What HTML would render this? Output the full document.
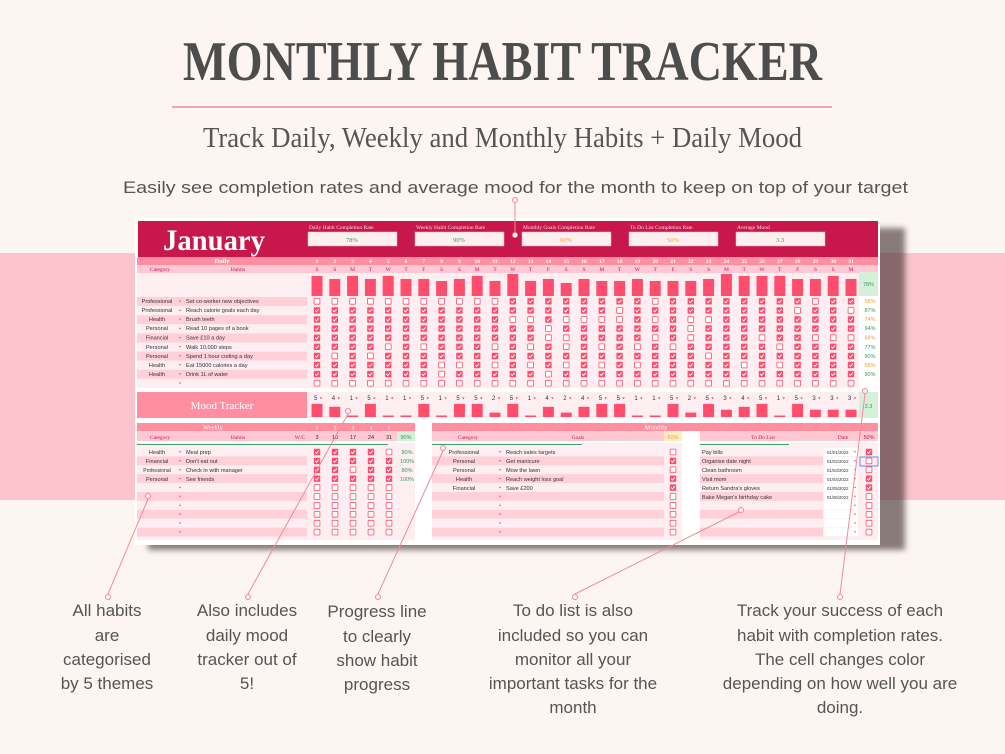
<!DOCTYPE html>
<html><head><meta charset="utf-8"><style>
html,body{margin:0;padding:0;width:1005px;height:754px;overflow:hidden;background:#fdf5f1}
svg{display:block}
.s{font-family:"Liberation Sans",sans-serif}
.f{font-family:"Liberation Serif",serif}
</style></head><body>
<svg id="g" width="1005" height="754" viewBox="0 0 1005 754" xmlns="http://www.w3.org/2000/svg">
<defs><filter id="bl" x="-5%" y="-5%" width="110%" height="110%"><feGaussianBlur stdDeviation="3"/></filter></defs>
<rect x="0" y="0" width="1005" height="754" fill="#fdf5f1"/>
<rect x="0" y="253" width="1005" height="247" fill="#fbc4cc"/>

<text class="f" x="183" y="80" font-size="56" font-weight="bold" fill="#4d4d4d" textLength="639" lengthAdjust="spacingAndGlyphs">MONTHLY HABIT TRACKER</text>
<rect x="172" y="106" width="660" height="2" fill="#f4a3b0"/>
<text class="f" x="203" y="147" font-size="28" fill="#555" textLength="599" lengthAdjust="spacingAndGlyphs">Track Daily, Weekly and Monthly Habits + Daily Mood</text>
<text class="s" x="123" y="193" font-size="17" fill="#555" textLength="785" lengthAdjust="spacingAndGlyphs">Easily see completion rates and average mood for the month to keep on top of your target</text>

<!-- card shadow + card -->
<rect x="148" y="228" width="757" height="322" fill="#3a2a2c" opacity="0.6" filter="url(#bl)"/>
<rect x="135" y="218" width="745" height="327" fill="#ffffff"/>
<rect x="138" y="221" width="740" height="36" fill="#c8174a"/>
<text class="f" x="163" y="250" font-size="30" font-weight="bold" fill="#fff" textLength="102" lengthAdjust="spacingAndGlyphs">January</text>

<g class="f" font-size="5.5" fill="#f6dbe2">
<text x="309" y="229">Daily Habit Completion Rate</text>
<text x="416" y="229">Weekly Habit Completion Rate</text>
<text x="523" y="229">Monthly Goals Completion Rate</text>
<text x="630" y="229">To Do List Completion Rate</text>
<text x="737" y="229">Average Mood</text>
</g>
<g fill="#fdeef0" stroke="#f2b8c6" stroke-width="0.5">
<rect x="308" y="232" width="89" height="14"/><rect x="415" y="232" width="89" height="14"/><rect x="522" y="232" width="89" height="14"/><rect x="629" y="232" width="89" height="14"/><rect x="736" y="232" width="89" height="14"/>
</g>
<g class="f" font-size="6.5" text-anchor="middle">
<text x="352" y="242" fill="#3a9a5a">78%</text>
<text x="459" y="242" fill="#3a9a5a">90%</text>
<text x="566" y="242" fill="#f0a040">60%</text>
<text x="673" y="242" fill="#f0a040">50%</text>
<text x="780" y="242" fill="#3a9a5a">3.3</text>
</g>

<!-- daily header -->
<rect x="137" y="257" width="741" height="8" fill="#ff8fa0"/>
<rect x="137" y="265" width="741" height="8" fill="#ffc8d2"/>
<rect x="137" y="273" width="722" height="115" fill="#fdeef1"/>
<rect x="859" y="272" width="19" height="24" fill="#d5f0d8"/>
<text class="f" x="222" y="263" font-size="6.5" fill="#fff" text-anchor="middle" font-weight="bold">Daily</text>
<text class="f" x="160" y="271" font-size="5.5" fill="#c8174a" text-anchor="middle">Category</text>
<text class="f" x="238" y="271" font-size="5.5" fill="#c8174a" text-anchor="middle">Habits</text>
<g class="f" font-size="5.5" fill="#fff" text-anchor="middle" font-weight="bold">
<text x="317" y="263">1</text><text x="334.8" y="263">2</text><text x="352.6" y="263">3</text><text x="370.4" y="263">4</text><text x="388.2" y="263">5</text><text x="406" y="263">6</text><text x="423.8" y="263">7</text><text x="441.6" y="263">8</text><text x="459.4" y="263">9</text><text x="477.2" y="263">10</text><text x="495" y="263">11</text><text x="512.8" y="263">12</text><text x="530.6" y="263">13</text><text x="548.4" y="263">14</text><text x="566.2" y="263">15</text><text x="584" y="263">16</text><text x="601.8" y="263">17</text><text x="619.6" y="263">18</text><text x="637.4" y="263">19</text><text x="655.2" y="263">20</text><text x="673" y="263">21</text><text x="690.8" y="263">22</text><text x="708.6" y="263">23</text><text x="726.4" y="263">24</text><text x="744.2" y="263">25</text><text x="762" y="263">26</text><text x="779.8" y="263">27</text><text x="797.6" y="263">28</text><text x="815.4" y="263">29</text><text x="833.2" y="263">30</text><text x="851" y="263">31</text>
</g>
<text class="f" font-size="5.5" fill="#c8174a" text-anchor="middle" y="271" x="317 334.8 352.6 370.4 388.2 406 423.8 441.6 459.4 477.2 495 512.8 530.6 548.4 566.2 584 601.8 619.6 637.4 655.2 673 690.8 708.6 726.4 744.2 762 779.8 797.6 815.4 833.2 851">SSMTWTFSSMTWTFSSMTWTFSSMTWTFSSM</text>
<text class="s" x="868.5" y="286" font-size="5.5" fill="#3a9a5a" text-anchor="middle">78%</text>

<g id="dailyBands"></g>
<g class="s" font-size="5.6" fill="#333">
<text x="157" y="303" text-anchor="middle">Professional</text><text x="186" y="303">Set co-worker new objectives</text>
<text x="157" y="312" text-anchor="middle">Professional</text><text x="186" y="312">Reach calorie goals each day</text>
<text x="157" y="321" text-anchor="middle">Health</text><text x="186" y="321">Brush teeth</text>
<text x="157" y="330" text-anchor="middle">Personal</text><text x="186" y="330">Read 10 pages of a book</text>
<text x="157" y="339.5" text-anchor="middle">Financial</text><text x="186" y="339.5">Save £10 a day</text>
<text x="157" y="349" text-anchor="middle">Personal</text><text x="186" y="349">Walk 10,000 steps</text>
<text x="157" y="358" text-anchor="middle">Personal</text><text x="186" y="358">Spend 1 hour coding a day</text>
<text x="157" y="367" text-anchor="middle">Health</text><text x="186" y="367">Eat 15000 calories a day</text>
<text x="157" y="376" text-anchor="middle">Health</text><text x="186" y="376">Drink 1L of water</text>
</g>
<g class="s" font-size="5.5" text-anchor="middle">
<text x="870" y="303" fill="#f0a040">58%</text><text x="870" y="312" fill="#3a9a5a">87%</text><text x="870" y="321" fill="#f0a040">74%</text><text x="870" y="330" fill="#3a9a5a">94%</text><text x="870" y="339.5" fill="#f0a040">68%</text><text x="870" y="349" fill="#3a9a5a">77%</text><text x="870" y="358" fill="#3a9a5a">90%</text><text x="870" y="367" fill="#f0a040">68%</text><text x="870" y="376" fill="#3a9a5a">90%</text>
</g>

<!-- mood -->
<rect x="137" y="392" width="170" height="26" fill="#ff8fa0"/>
<rect x="307" y="392" width="552" height="26" fill="#fdeef1"/>
<rect x="859" y="392" width="19" height="26" fill="#d5f0d8"/>
<text class="f" x="222" y="409" font-size="11" fill="#fff" text-anchor="middle">Mood Tracker</text>
<text class="s" x="868.5" y="408" font-size="5.5" fill="#3a9a5a" text-anchor="middle">3.3</text>
<text class="s" font-size="6" fill="#333" y="400" x="314 331.8 349.6 367.4 385.2 403 420.8 438.6 456.4 474.2 492 509.8 527.6 545.4 563.2 581 598.8 616.6 634.4 652.2 670 687.8 705.6 723.4 741.2 759 776.8 794.6 812.4 830.2 848">5415115155251424551152534515333</text>
<text class="s" font-size="4" fill="#ff4d6d" y="399.5" x="319 336.8 354.6 372.4 390.2 408 425.8 443.6 461.4 479.2 497 514.8 532.6 550.4 568.2 586 603.8 621.6 639.4 657.2 675 692.8 710.6 728.4 746.2 764 781.8 799.6 817.4 835.2 853">▼▼▼▼▼▼▼▼▼▼▼▼▼▼▼▼▼▼▼▼▼▼▼▼▼▼▼▼▼▼▼</text>

<!-- weekly -->
<rect x="137" y="423" width="278" height="8" fill="#ff8fa0"/>
<rect x="137" y="431" width="278" height="10" fill="#ffc8d2"/>
<rect x="397" y="432" width="18" height="9" fill="#d5f0d8"/>
<rect x="137" y="443" width="278" height="97" fill="#fdeef1"/>
<rect x="137" y="444" width="251" height="1" fill="#3fa06a"/>
<text class="f" x="213" y="429.5" font-size="6.5" fill="#fff" text-anchor="middle">Weekly</text>
<g class="f" font-size="5.5" fill="#fff" text-anchor="middle"><text x="317" y="429.5">1</text><text x="335" y="429.5">2</text><text x="353" y="429.5">3</text><text x="371" y="429.5">4</text><text x="389" y="429.5">5</text></g>
<text class="f" x="160" y="439" font-size="5.5" fill="#c8174a" text-anchor="middle">Category</text>
<text class="f" x="238" y="439" font-size="5.5" fill="#c8174a" text-anchor="middle">Habits</text>
<text class="f" x="300" y="439" font-size="5.5" fill="#c8174a" text-anchor="middle">W/C</text>
<g class="s" font-size="5.5" fill="#333" text-anchor="middle"><text x="317" y="439">3</text><text x="335" y="439">10</text><text x="353" y="439">17</text><text x="371" y="439">24</text><text x="389" y="439">31</text></g>
<text class="s" x="406" y="439" font-size="5.5" fill="#3a9a5a" text-anchor="middle">90%</text>
<g id="weeklyBands"></g>
<g class="s" font-size="5.6" fill="#333">
<text x="157" y="454" text-anchor="middle">Health</text><text x="186" y="454">Meal prep</text>
<text x="157" y="463" text-anchor="middle">Financial</text><text x="186" y="463">Don't eat out</text>
<text x="157" y="472" text-anchor="middle" font-size="5">Professional</text><text x="186" y="472">Check in with manager</text>
<text x="157" y="481" text-anchor="middle">Personal</text><text x="186" y="481">See friends</text>
</g>
<g class="s" font-size="5.5" fill="#3a9a5a" text-anchor="middle"><text x="407" y="454">80%</text><text x="407" y="463">100%</text><text x="407" y="472">80%</text><text x="407" y="481">100%</text></g>

<!-- monthly -->
<rect x="432" y="423" width="446" height="8" fill="#ff8fa0"/>
<rect x="432" y="431" width="232" height="10" fill="#ffc8d2"/>
<rect x="664" y="431" width="18" height="10" fill="#fdeec0"/>
<rect x="700" y="431" width="178" height="10" fill="#ffc8d2"/>
<rect x="432" y="443" width="250" height="97" fill="#fdeef1"/>
<rect x="700" y="443" width="178" height="97" fill="#fdeef1"/>
<rect x="432" y="444" width="150" height="1" fill="#3fa06a"/>
<rect x="700" y="444" width="89" height="1" fill="#3fa06a"/>
<text class="f" x="656" y="429.5" font-size="6.5" fill="#fff" text-anchor="middle">Monthly</text>
<g class="f" font-size="5.5" fill="#c8174a" text-anchor="middle">
<text x="468" y="439">Category</text><text x="578" y="439">Goals</text><text x="763" y="439">To Do List</text><text x="843" y="439">Date</text>
</g>
<text class="s" x="673" y="439" font-size="5.5" fill="#f0a040" text-anchor="middle">60%</text>
<text class="s" x="869" y="439" font-size="5.5" fill="#c8174a" text-anchor="middle">50%</text>
<g id="monthBands"></g>
<g class="s" font-size="5.6" fill="#333">
<text x="464" y="454" text-anchor="middle">Professional</text><text x="506" y="454">Reach sales targets</text>
<text x="464" y="463" text-anchor="middle">Personal</text><text x="506" y="463">Get manicure</text>
<text x="464" y="472" text-anchor="middle">Personal</text><text x="506" y="472">Mow the lawn</text>
<text x="464" y="481" text-anchor="middle">Health</text><text x="506" y="481">Reach weight loss goal</text>
<text x="464" y="490" text-anchor="middle">Financial</text><text x="506" y="490">Save £200</text>
<text x="702" y="454">Pay bills</text>
<text x="702" y="463">Organise date night</text>
<text x="702" y="472">Clean bathroom</text>
<text x="702" y="481">Visit mom</text>
<text x="702" y="490">Return Sandra's gloves</text>
<text x="702" y="499">Bake Megan's birthday cake</text>
</g>
<g class="s" font-size="4.3" fill="#333">
<text x="827" y="454">01/01/2022</text><text x="827" y="463">01/02/2022</text><text x="827" y="472">01/03/2022</text><text x="827" y="481">01/04/2022</text><text x="827" y="490">01/05/2022</text><text x="827" y="499">01/06/2022</text>
</g>
<rect x="860" y="457" width="18" height="9" fill="none" stroke="#3b7be0" stroke-width="0.8"/>

<g id="dyn"></g>

<!-- annotations -->
<g stroke="#f3899b" stroke-width="1" fill="none">
<line x1="515" y1="203" x2="515" y2="232"/><circle cx="515" cy="200" r="2.5" fill="#fdf5f1"/><circle cx="515" cy="235" r="2.5" fill="#fff"/>
<line x1="108" y1="594" x2="148" y2="499"/><circle cx="108" cy="597" r="2.5" fill="#fdf5f1"/><circle cx="148" cy="496" r="2.5" fill="#fdeef1"/>
<line x1="248" y1="594" x2="348" y2="414"/><circle cx="248" cy="597" r="2.5" fill="#fdf5f1"/><circle cx="348" cy="411" r="2.5" fill="#fdeef1"/>
<line x1="378" y1="594" x2="443" y2="451"/><circle cx="378" cy="597" r="2.5" fill="#fdf5f1"/><circle cx="443" cy="448" r="2.5" fill="#fdeef1"/>
<line x1="575" y1="594" x2="739" y2="512"/><circle cx="575" cy="597" r="2.5" fill="#fdf5f1"/><circle cx="741" cy="510" r="2.5" fill="#fdeef1"/>
<line x1="840" y1="594" x2="865" y2="394"/><circle cx="840" cy="597" r="2.5" fill="#fdf5f1"/><circle cx="865" cy="391" r="2.5" fill="#fdeef1"/>
</g>
<g class="s" font-size="17" fill="#555" text-anchor="middle">
<text x="107" y="616">All habits</text><text x="107" y="641">are</text><text x="107" y="665">categorised</text><text x="107" y="689">by 5 themes</text>
<text x="247" y="616">Also includes</text><text x="247" y="641">daily mood</text><text x="247" y="665">tracker out of</text><text x="247" y="689">5!</text>
<text x="377" y="617">Progress line</text><text x="377" y="642">to clearly</text><text x="377" y="666">show habit</text><text x="377" y="690">progress</text>
<text x="573" y="616">To do list is also</text><text x="573" y="641">included so you can</text><text x="573" y="665">monitor all your</text><text x="573" y="689">important tasks for the</text><text x="573" y="713">month</text>
<text x="840" y="616">Track your success of each</text><text x="840" y="641">habit with completion rates.</text><text x="840" y="665">The cell changes color</text><text x="840" y="689">depending on how well you are</text><text x="840" y="713">doing.</text>
</g>
</svg>
<script>
(function(){
var NS="http://www.w3.org/2000/svg";
function el(p,t,a){var e=document.createElementNS(NS,t);for(var k in a)e.setAttribute(k,a[k]);p.appendChild(e);return e;}
var dyn=document.getElementById('dyn');
var PK="#ff4d6d";
function cb(x,y,c){
  if(c){el(dyn,'rect',{x:x-3.2,y:y-3.2,width:6.4,height:6.4,fill:PK,rx:0.6});
    el(dyn,'path',{d:'M'+(x-1.8)+' '+(y)+' L'+(x-0.5)+' '+(y+1.4)+' L'+(x+1.9)+' '+(y-1.4),stroke:'#fff','stroke-width':0.9,fill:'none'});}
  else el(dyn,'rect',{x:x-2.9,y:y-2.9,width:5.8,height:5.8,fill:'#fff',stroke:PK,'stroke-width':0.8,rx:0.6});
}
function tri(x,y){el(dyn,'path',{d:'M'+(x-1.3)+' '+(y-0.7)+' L'+(x+1.3)+' '+(y-0.7)+' L'+x+' '+(y+0.8)+'Z',fill:PK});}
var xs=[];for(var i=0;i<31;i++)xs.push(317+i*17.8);
var db=document.getElementById('dailyBands');
for(var r=0;r<10;r++){var y=297+r*9.1;
  el(db,'rect',{x:137,y:y,width:170,height:9.1,fill:(r%2==0)?'#ffd0d9':'#fdeef1'});}
var daily=[
"0000000000011111111011111111011",
"1111111111111111101111111110110",
"1111111111100100001010011111111",
"1111111111111011111110111111111",
"1111111111111001111010111011000",
"1111010111010101010101111101111",
"1010111111111111111111011111111",
"1111111001010101010111110101111",
"1111111011111011111111111111111",
"0000000000000000000000000000000"];
for(var r=0;r<10;r++){var y=301.3+r*9.1;tri(180,y);
  for(var d=0;d<31;d++)cb(xs[d],y,daily[r][d]=='1');}
var bt=[276,279,276,279,276,279,279,281,279,276,281,274,281,279,283,279,281,281,279,281,281,281,279,274,276,276,276,279,279,276,279];
for(var d=0;d<31;d++)el(dyn,'rect',{x:xs[d]-5.5,y:bt[d],width:11,height:296-bt[d],fill:PK});
var mood="5415115155251424551152534515333";
for(var d=0;d<31;d++){var v=+mood[d];var h=1.5+ (v-1)*2.9;el(dyn,'rect',{x:xs[d]-5.5,y:417-h,width:11,height:h,fill:PK});}
// weekly
var wb=document.getElementById('weeklyBands');
var wx=[317,335,353,371,389];
var wk=["11110","11111","11011","11111"];
for(var r=0;r<10;r++){var y=447.5+r*8.9;
  el(wb,'rect',{x:137,y:y,width:170,height:8.9,fill:(r%2==1)?'#ffd0d9':'#fdeef1'});}
for(var r=0;r<10;r++){var y=452+r*8.9;tri(180,y);
  for(var c=0;c<5;c++)cb(wx[c],y,r<4&&wk[r][c]=='1');}
// monthly
var mb=document.getElementById('monthBands');
for(var r=0;r<10;r++){var y=447.5+r*8.9;var f=(r%2==1)?'#ffd0d9':'#fdeef1';
  el(mb,'rect',{x:432,y:y,width:232,height:8.9,fill:f});
  el(mb,'rect',{x:700,y:y,width:123,height:8.9,fill:f});
  el(mb,'rect',{x:824,y:y+0.5,width:34,height:8,fill:'#fff'});}
var mg="0101100000",td="1001100000";
for(var r=0;r<10;r++){var y=452+r*8.9;tri(500,y);tri(855,y);
  cb(673,y,mg[r]=='1');cb(869,y,td[r]=='1');}
})();
</script>
</body></html>
